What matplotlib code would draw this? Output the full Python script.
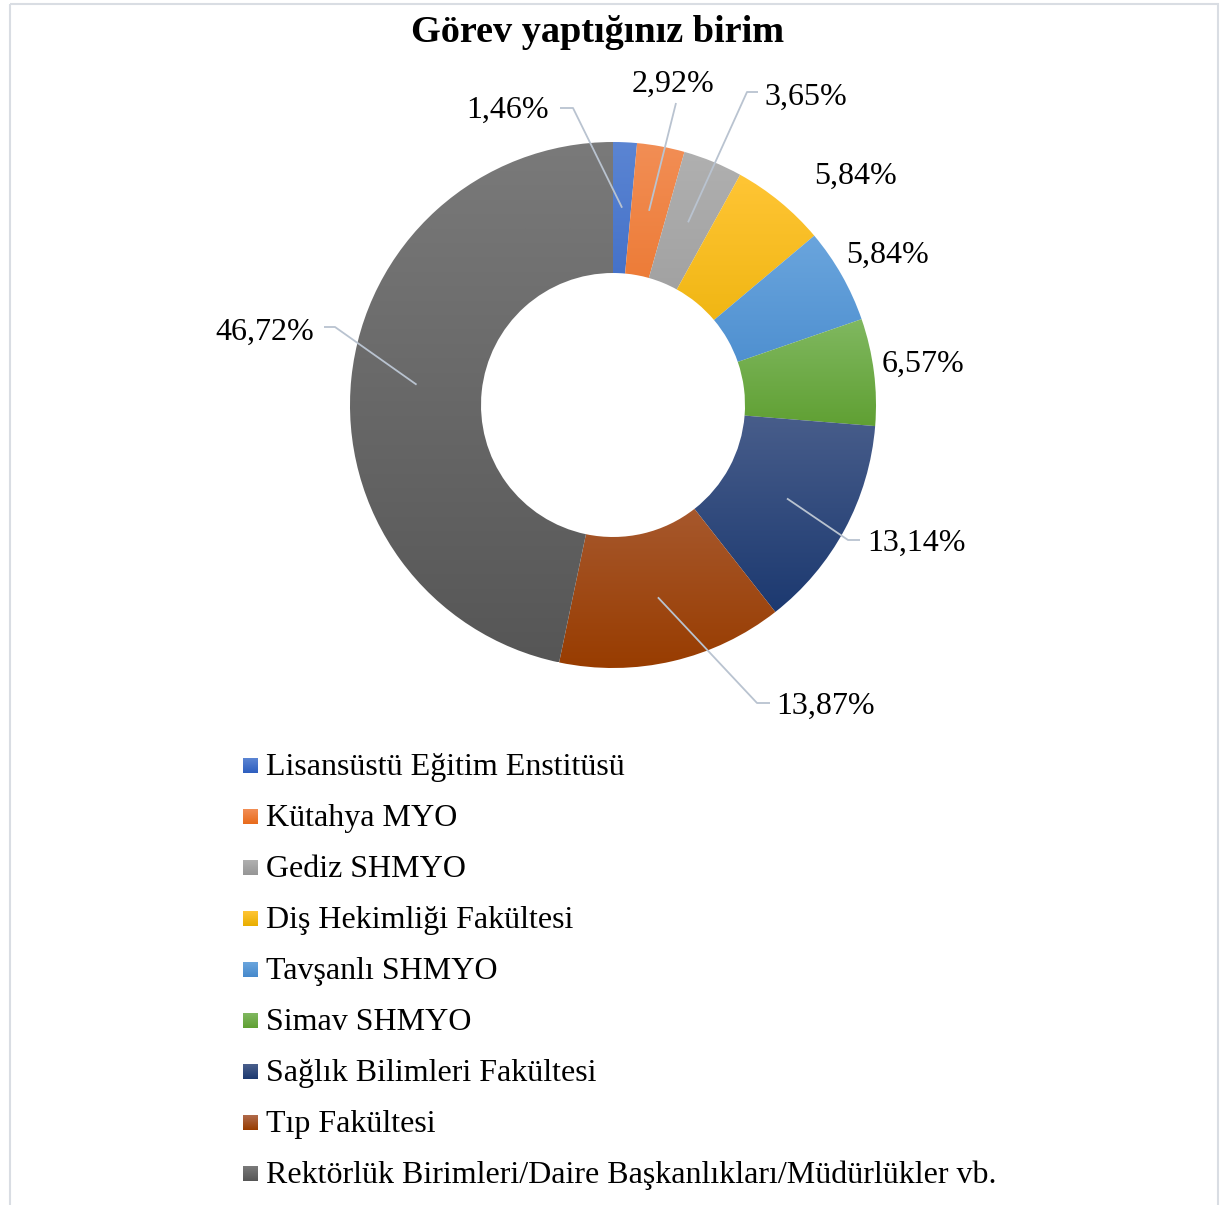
import numpy as np
import matplotlib

matplotlib.use("Agg")
import matplotlib.pyplot as plt
from matplotlib.colors import to_rgb
from matplotlib.patches import Rectangle

plt.rcParams.update({"font.family": ["Liberation Serif", "DejaVu Serif"]})

title = "Görev yaptığınız birim"
units = ["Lisansüstü Eğitim Enstitüsü", "Kütahya MYO", "Gediz SHMYO",
         "Diş Hekimliği Fakültesi", "Tavşanlı SHMYO", "Simav SHMYO",
         "Sağlık Bilimleri Fakültesi", "Tıp Fakültesi",
         "Rektörlük Birimleri/Daire Başkanlıkları/Müdürlükler vb."]
shares = [1.46, 2.92, 3.65, 5.84, 5.84, 6.57, 13.14, 13.87, 46.72]
# gradient (top, bottom) per slice
tops = ["#5b85d3", "#f28e55", "#b0b0b0", "#ffc535", "#6aa5dd",
        "#80b860", "#4a5f8c", "#b06a4a", "#7a7a7a"]
bottoms = ["#2f5fbf", "#e86b1c", "#969696", "#e8ae00", "#4689cc",
           "#60a033", "#1c3970", "#983c00", "#565656"]

# label centre (px) and leader knee points (px), hand placed like the source
label_pos = [(508, 108), (673, 82), (806, 95), (856, 174), (887, 253),
             (923, 362), (917, 541), (826, 704), (265, 330)]
leaders = [[(560, 108), (573, 108)], [(676, 103)], [(758, 92), (747, 92)],
           None, None, None, [(860, 540), (848, 540)],
           [(770, 703), (757, 703)], [(324, 327), (335, 327)]]

W, H = 1223, 1205
CX, CY, R_OUT, R_IN = 613, 405, 263, 132
LEAD = "#b9c3d0"


def grad(top, bottom, n=256):
    a, b = np.array(to_rgb(top)), np.array(to_rgb(bottom))
    t = np.linspace(0, 1, n)[:, None]
    return (a * (1 - t) + b * t)[:, None, :]


fig = plt.figure(figsize=(W / 100, H / 100), dpi=100)
ax = fig.add_axes([0, 0, 1, 1])

wedges, _ = ax.pie(shares, center=(CX, CY), radius=R_OUT, startangle=-90,
                   counterclock=True, frame=True,
                   wedgeprops=dict(width=R_OUT - R_IN, linewidth=0))
ax.set_xlim(0, W)
ax.set_ylim(H, 0)
ax.set_aspect("auto")
ax.axis("off")

for w, t, b in zip(wedges, tops, bottoms):
    w.set_facecolor("none")
    v = w.get_path().vertices
    x0, x1 = v[:, 0].min(), v[:, 0].max()
    y0, y1 = v[:, 1].min(), v[:, 1].max()
    im = ax.imshow(grad(t, b), extent=(x0, x1, y1, y0), origin="upper",
                   aspect="auto", interpolation="bilinear", zorder=2)
    im.set_clip_path(w)

# data labels with leader lines
r_mid = (R_OUT + R_IN) / 2
for w, s, pos, knee in zip(wedges, shares, label_pos, leaders):
    ang = np.deg2rad((w.theta1 + w.theta2) / 2)
    ex, ey = CX + r_mid * np.cos(ang), CY + r_mid * np.sin(ang)
    if knee:
        pts = knee + [(ex, ey)]
        ax.plot([p[0] for p in pts], [p[1] for p in pts], color=LEAD,
                lw=1.3, zorder=3, solid_capstyle="butt")
    ax.text(pos[0], pos[1] + 2, f"{s:.2f}".replace(".", ",") + "%",
            ha="center", va="center", fontsize=23, zorder=4)

ax.text(598, 33, title, ha="center", va="center", fontsize=27.5,
        fontweight="bold")

# legend
for i, (name, t, b) in enumerate(zip(units, tops, bottoms)):
    yc = 766 + i * 50.9
    ax.imshow(grad(t, b, 32), extent=(243, 258, yc + 7.5, yc - 7.5),
              origin="upper", aspect="auto", zorder=2)
    ax.text(266, yc + 2, name, ha="left", va="center", fontsize=23)

ax.add_patch(Rectangle((9.5, 3.5), 1208, 1220, fill=False,
                       edgecolor="#d9dde3", lw=1.5, zorder=5))

fig.savefig("out.png", dpi=100)
